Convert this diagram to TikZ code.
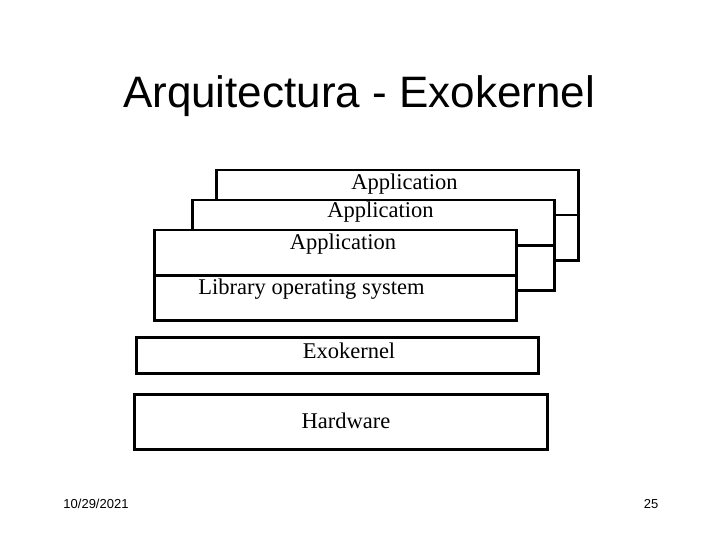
\documentclass[tikz,border=0pt]{standalone}
\usepackage{fontspec}
\setmainfont{Liberation Serif}
\newfontfamily\arial{Liberation Sans}
\usetikzlibrary{positioning}

\begin{document}
\begin{tikzpicture}[
    x=1pt, y=-1pt,
    line width=2.5pt
]
\tikzset{
    layer/.style = {rectangle, draw=black, fill=white, inner sep=0pt, anchor=north west},
    half/.style = {layer, minimum width=362pt, minimum height=45pt},
    txt/.style = {inner sep=0pt, font=\fontsize{22.5}{27}\selectfont},
    foot/.style = {inner sep=0pt, font=\arial\fontsize{13}{15}\selectfont}
}
\useasboundingbox (0,0) rectangle (720,540);
\node[inner sep=0pt, font=\arial\fontsize{44}{52}\selectfont] at (359,96) (title) {Arquitectura - Exokernel};
\node[half] at (215,169) (app3) {};
\node[half] at (215,214) (lib3) {};
\node[half] at (191,199) (app2) {};
\node[half] at (191,244) (lib2) {};
\node[half] at (153,229) (app1) {};
\node[half] at (153,274) (lib1) {};
\node[txt] at (404.5,184.5) (t3) {Application};
\node[txt] at (380.5,212.5) (t2) {Application};
\node[txt] at (343,244) (t1) {Application};
\node[txt] at (311.5,289.5) (lib) {Library operating system};
\node[layer, minimum width=402pt, minimum height=36pt] at (135,336) (exo) {};
\node[txt] at (349,350.5) (texo) {Exokernel};
\node[layer, minimum width=413pt, minimum height=55pt] at (133,393) (hw) {};
\node[txt] at (346,420.5) (thw) {Hardware};
\node[foot] at (96,504) (date) {10/29/2021};
\node[foot] at (651,504) (page) {25};
\end{tikzpicture}
\end{document}
